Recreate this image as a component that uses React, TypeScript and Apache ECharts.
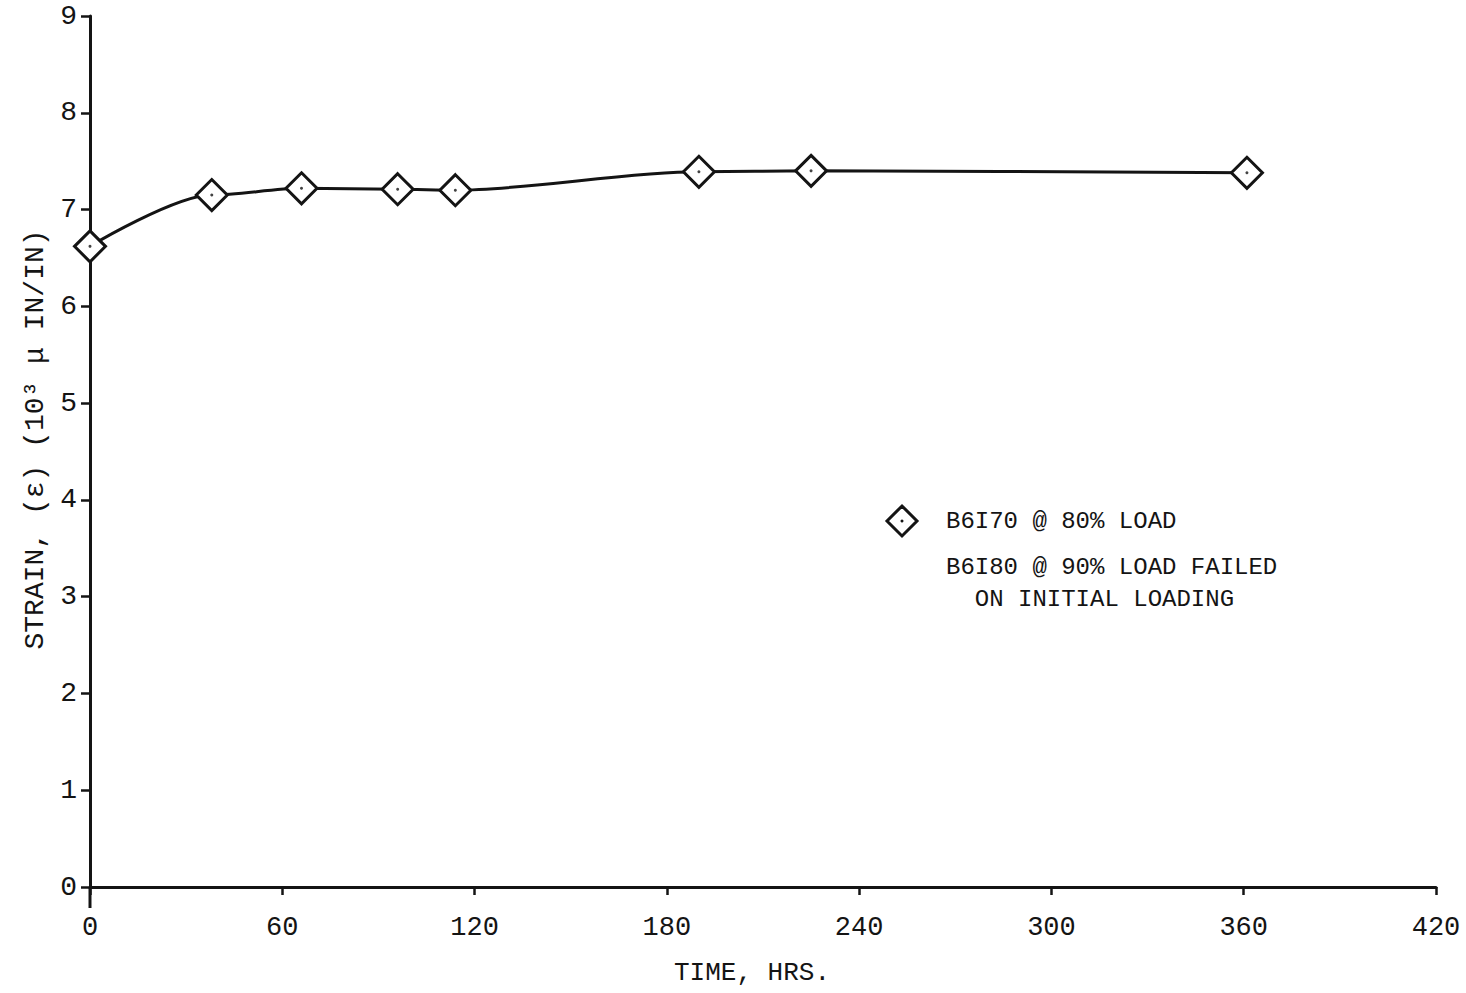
import React, { useEffect, useRef } from "react";
import * as echarts from "echarts";

// Creep test: strain vs. time for specimen B6I70 held at 80% load
const hours = [0, 38, 66, 96, 114, 190, 225, 361];
const strain = [6.62, 7.15, 7.22, 7.21, 7.2, 7.39, 7.4, 7.38];

const xTicks = [0, 60, 120, 180, 240, 300, 360, 420];
const yTicks = [0, 1, 2, 3, 4, 5, 6, 7, 8, 9];

const legendMain = "B6I70 @ 80% LOAD";
const noteLines = ["B6I80 @ 90% LOAD FAILED", "  ON INITIAL LOADING"];

const FONT = "'Liberation Mono', 'DejaVu Sans Mono', monospace";
const INK = "#141414";

export default function App() {
  const ref = useRef<HTMLDivElement>(null);

  useEffect(() => {
    document.body.style.margin = "0";
    const chart = echarts.init(ref.current!, undefined, { renderer: "svg" });
    const pts = hours.map((h, i) => [h, strain[i]]);

    chart.setOption({
      animation: false,
      backgroundColor: "#ffffff",
      grid: { left: 90, right: 30, top: 16, bottom: 106 },
      xAxis: {
        type: "value",
        min: xTicks[0],
        max: xTicks[xTicks.length - 1],
        interval: 60,
        name: "TIME, HRS.",
        nameLocation: "middle",
        nameGap: 86,
        nameTextStyle: { fontFamily: FONT, fontSize: 26, color: INK, verticalAlign: "middle", padding: [0, 22, 0, 0] },
        axisLine: { lineStyle: { color: INK, width: 3 } },
        axisTick: { inside: false, length: 8, lineStyle: { color: INK, width: 2.5 } },
        axisLabel: { fontFamily: FONT, fontSize: 27, color: INK, margin: 27 },
        splitLine: { show: false },
      },
      yAxis: {
        type: "value",
        min: yTicks[0],
        max: yTicks[yTicks.length - 1],
        interval: 1,
        name: "STRAIN, (\u03b5) (10\u00b3 \u03bc IN/IN)",
        nameLocation: "middle",
        nameGap: 55,
        nameRotate: 90,
        nameTextStyle: { fontFamily: FONT, fontSize: 28, color: INK, verticalAlign: "middle", padding: [0, 0, 0, 24] },
        axisLine: { show: true, lineStyle: { color: INK, width: 3 } },
        axisTick: { show: true, inside: false, length: 9, lineStyle: { color: INK, width: 2.5 } },
        axisLabel: { fontFamily: FONT, fontSize: 28, color: INK, margin: 13 },
        splitLine: { show: false },
      },
      series: [
        {
          type: "line",
          data: pts,
          smooth: 0.3,
          smoothMonotone: "x",
          symbol: "diamond",
          symbolSize: 31,
          lineStyle: { color: INK, width: 3 },
          itemStyle: { color: "#ffffff", borderColor: INK, borderWidth: 3 },
          z: 2,
        },
        {
          type: "scatter",
          data: pts,
          symbol: "circle",
          symbolSize: 3,
          itemStyle: { color: INK },
          z: 3,
        },
      ],
    });

    const origin = chart.convertToPixel({ gridIndex: 0 }, [0, 0]) as number[];
    chart.setOption({
      graphic: [
        {
          type: "line",
          shape: { x1: origin[0], y1: origin[1], x2: origin[0], y2: origin[1] + 21 },
          style: { stroke: INK, lineWidth: 3 },
        },
        {
          type: "polygon",
          shape: { points: [[902, 506], [917, 521], [902, 536], [887, 521]] },
          style: { fill: "#ffffff", stroke: INK, lineWidth: 3 },
        },
        { type: "circle", shape: { cx: 902, cy: 521, r: 1.5 }, style: { fill: INK } },
        {
          type: "text",
          x: 946,
          y: 521,
          style: { text: legendMain, font: `24px ${FONT}`, fill: INK, verticalAlign: "middle" },
        },
        {
          type: "text",
          x: 946,
          y: 567,
          style: { text: noteLines[0], font: `24px ${FONT}`, fill: INK, verticalAlign: "middle" },
        },
        {
          type: "text",
          x: 946,
          y: 599,
          style: { text: noteLines[1], font: `24px ${FONT}`, fill: INK, verticalAlign: "middle" },
        },
      ],
    });

    return () => chart.dispose();
  }, []);

  return <div ref={ref} style={{ width: 1466, height: 993 }} />;
}
